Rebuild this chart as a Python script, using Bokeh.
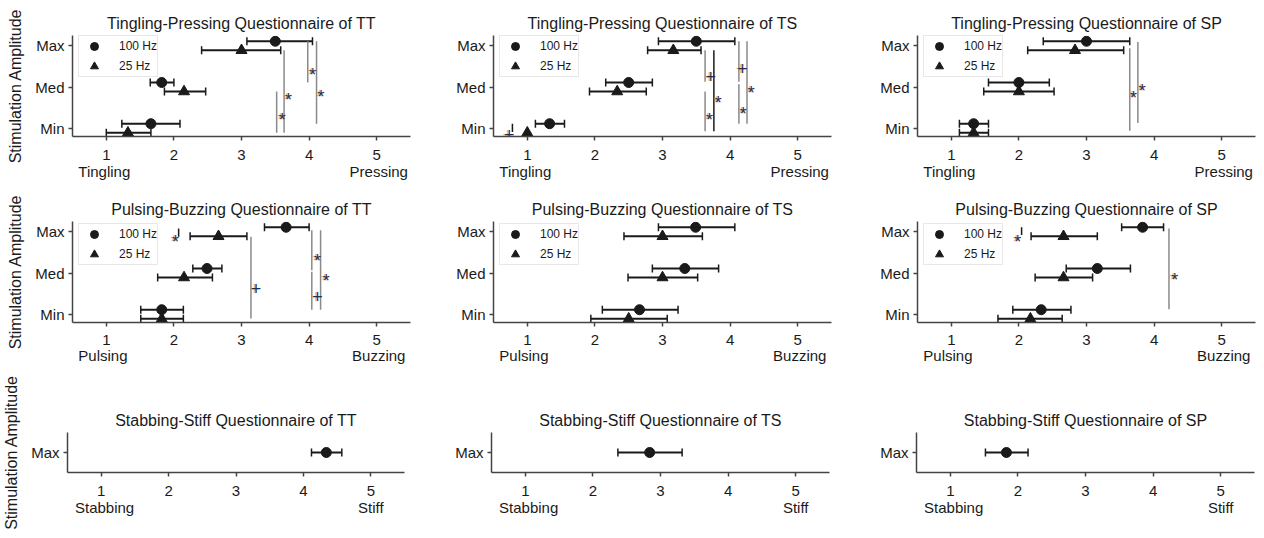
from bokeh.plotting import figure
from bokeh.models import (Range1d, FixedTicker, LinearAxis, Whisker, TeeHead,
                          ColumnDataSource, Legend, LegendItem)
from bokeh.layouts import column, row
from bokeh.embed import file_html
from bokeh.resources import INLINE
from bokeh.core.properties import value

# ---------------- data ----------------
levels = ["Min", "Med", "Max"]
level_pos = [0, 1, 2]
x_ticks = [1, 2, 3, 4, 5]
subjects = ["TT", "TS", "SP"]

# Tingling-Pressing (Min, Med, Max)
TT_TP_100 = [1.66, 1.82, 3.50]
TT_TP_100_lo = [1.23, 1.65, 3.08]
TT_TP_100_hi = [2.09, 2.00, 4.05]
TT_TP_25 = [1.32, 2.15, 3.00]
TT_TP_25_lo = [1.00, 1.86, 2.41]
TT_TP_25_hi = [1.66, 2.47, 3.58]

TS_TP_100 = [1.33, 2.50, 3.50]
TS_TP_100_lo = [1.12, 2.16, 2.94]
TS_TP_100_hi = [1.55, 2.85, 4.07]
TS_TP_25 = [1.00, 2.33, 3.16]
TS_TP_25_lo = [1.00, 1.92, 2.78]
TS_TP_25_hi = [1.00, 2.76, 3.57]

SP_TP_100 = [1.33, 2.00, 3.00]
SP_TP_100_lo = [1.12, 1.55, 2.36]
SP_TP_100_hi = [1.55, 2.45, 3.64]
SP_TP_25 = [1.33, 2.00, 2.83]
SP_TP_25_lo = [1.12, 1.48, 2.13]
SP_TP_25_hi = [1.55, 2.52, 3.55]

# Pulsing-Buzzing (Min, Med, Max)
TT_PB_100 = [1.82, 2.49, 3.66]
TT_PB_100_lo = [1.51, 2.28, 3.34]
TT_PB_100_hi = [2.14, 2.71, 4.00]
TT_PB_25 = [1.82, 2.15, 2.66]
TT_PB_25_lo = [1.51, 1.76, 2.24]
TT_PB_25_hi = [2.14, 2.57, 3.08]

TS_PB_100 = [2.66, 3.33, 3.49]
TS_PB_100_lo = [2.11, 2.85, 2.94]
TS_PB_100_hi = [3.23, 3.83, 4.07]
TS_PB_25 = [2.50, 3.00, 3.00]
TS_PB_25_lo = [1.94, 2.49, 2.43]
TS_PB_25_hi = [3.07, 3.52, 3.59]

SP_PB_100 = [2.33, 3.16, 3.83]
SP_PB_100_lo = [1.91, 2.70, 3.52]
SP_PB_100_hi = [2.77, 3.65, 4.14]
SP_PB_25 = [2.17, 2.66, 2.66]
SP_PB_25_lo = [1.69, 2.24, 2.18]
SP_PB_25_hi = [2.64, 3.09, 3.16]

# Stabbing-Stiff (Max only, 100 Hz)
SS_mean = [4.34, 2.84, 1.83]
SS_lo = [4.12, 2.37, 1.52]
SS_hi = [4.57, 3.32, 2.15]

# significance brackets: x, y-from, y-to, mark, mark x, mark y
TT_TP_sig_x = [3.63, 3.52, 3.98, 4.11]
TT_TP_sig_y0 = [1.89, 0.89, 2.11, 2.11]
TT_TP_sig_y1 = [-0.11, -0.11, 1.11, 0.11]
TT_TP_sig_mark = ["*", "*", "*", "*"]
TT_TP_sig_mx = [3.69, 3.60, 4.05, 4.17]
TT_TP_sig_my = [0.94, 0.44, 1.54, 0.99]

TS_TP_sig_x = [0.78, 3.63, 3.63, 3.76, 4.13, 4.13, 4.25]
TS_TP_sig_y0 = [0.11, 1.89, 0.89, 1.89, 2.11, 1.07, 2.11]
TS_TP_sig_y1 = [-0.09, 1.13, -0.07, -0.07, 1.13, 0.11, 0.11]
TS_TP_sig_mark = ["+", "+", "*", "*", "+", "*", "*"]
TS_TP_sig_mx = [0.73, 3.71, 3.69, 3.82, 4.18, 4.19, 4.31]
TS_TP_sig_my = [0.00, 1.40, 0.44, 0.85, 1.60, 0.59, 1.09]

SP_TP_sig_x = [3.64, 3.76]
SP_TP_sig_y0 = [1.94, 2.09]
SP_TP_sig_y1 = [-0.06, 0.13]
SP_TP_sig_mark = ["*", "*"]
SP_TP_sig_mx = [3.69, 3.82]
SP_TP_sig_my = [0.97, 1.15]

TT_PB_sig_x = [2.07, 3.14, 4.04, 4.04, 4.17]
TT_PB_sig_y0 = [2.08, 1.88, 2.04, 1.03, 2.04]
TT_PB_sig_y1 = [1.88, -0.10, 1.07, 0.11, 0.11]
TT_PB_sig_mark = ["*", "+", "*", "+", "*"]
TT_PB_sig_mx = [2.02, 3.21, 4.12, 4.12, 4.25]
TT_PB_sig_my = [2.00, 0.77, 1.53, 0.57, 1.05]

TS_PB_sig_x, TS_PB_sig_y0, TS_PB_sig_y1 = [], [], []
TS_PB_sig_mark, TS_PB_sig_mx, TS_PB_sig_my = [], [], []

SP_PB_sig_x = [2.04, 4.22]
SP_PB_sig_y0 = [2.11, 2.08]
SP_PB_sig_y1 = [1.92, 0.12]
SP_PB_sig_mark = ["*", "*"]
SP_PB_sig_mx = [1.98, 4.30]
SP_PB_sig_my = [2.00, 1.07]

TP_words = ["Tingling", "Pressing"]
TP_word_pos = [0.97, 5.03]
PB_words = ["Pulsing", "Buzzing"]
PB_word_pos = [0.95, 5.03]
SS_words = ["Stabbing", "Stiff"]
SS_word_pos = [1.05, 5.0]

# ---------------- styling / layout ----------------
FONT = "Liberation Sans"
TXT = "#1a1a1a"
AX = "#444444"
DARK = "#1a1a1a"
SIG_GRAY = "#8a8a8a"
DODGE = 0.11

col_widths = [422, 423, 415]
col_borders_top = [(72, 12), (71, 14), (72, 5)]
col_borders_bot = [(66, 18), (69, 16), (71, 6)]
# (height, top border, bottom border, tick standoff, word standoff)
row_geom = [(186, 35, 50, 9, -6), (181, 35, 45, 8, -7), (169, 65, 64, 9, -6)]


def base_fig(title, width, height, bl, br, bt, bb, yr, yticks, ylabels, words, word_pos,
             ylabel, tick_standoff, word_standoff):
    p = figure(width=width, height=height, x_range=Range1d(0.5, 5.5), y_range=Range1d(*yr),
               output_backend="svg", toolbar_location=None,
               min_border_left=bl, min_border_right=br, min_border_top=bt, min_border_bottom=bb)
    p.outline_line_color = None
    p.xgrid.visible = False
    p.ygrid.visible = False
    p.background_fill_color = "white"
    p.border_fill_color = "white"
    p.title.text = title
    p.title.align = "center"
    p.title.text_font = FONT
    p.title.text_font_size = "16px"
    p.title.text_font_style = "normal"
    p.title.text_color = TXT
    p.title.standoff = 7

    xa = p.xaxis[0]
    xa.ticker = FixedTicker(ticks=x_ticks)
    xa.minor_tick_line_color = None
    xa.major_tick_in = 0
    xa.major_tick_out = 4
    xa.major_tick_line_color = AX
    xa.major_tick_line_width = 1.5
    xa.axis_line_color = AX
    xa.axis_line_width = 1.5
    xa.major_label_text_font = FONT
    xa.major_label_text_font_size = "15px"
    xa.major_label_text_color = TXT
    xa.major_label_standoff = tick_standoff

    ya = p.yaxis[0]
    ya.ticker = FixedTicker(ticks=yticks)
    ya.major_label_overrides = {t: l for t, l in zip(yticks, ylabels)}
    ya.minor_tick_line_color = None
    ya.major_tick_in = 0
    ya.major_tick_out = 4
    ya.major_tick_line_color = AX
    ya.major_tick_line_width = 1.5
    ya.axis_line_color = AX
    ya.axis_line_width = 1.5
    ya.major_label_text_font = FONT
    ya.major_label_text_font_size = "15px"
    ya.major_label_text_color = TXT
    ya.major_label_standoff = 4
    if ylabel:
        ya.axis_label = ylabel
        ya.axis_label_text_font = FONT
        ya.axis_label_text_font_size = "16px"
        ya.axis_label_text_font_style = "normal"
        ya.axis_label_text_color = TXT
        ya.axis_label_standoff = 8

    wa = LinearAxis(ticker=FixedTicker(ticks=word_pos),
                    major_label_overrides={word_pos[0]: words[0], word_pos[1]: words[1]},
                    axis_line_color=None, major_tick_line_color=None, minor_tick_line_color=None,
                    major_label_text_font=FONT, major_label_text_font_size="15px",
                    major_label_text_color=TXT, major_label_standoff=word_standoff)
    p.add_layout(wa, "below")
    return p


def add_bars(p, ys, means, lo, hi):
    src = ColumnDataSource(dict(base=ys, lower=lo, upper=hi))
    w = Whisker(source=src, base="base", lower="lower", upper="upper", dimension="width",
                line_color=DARK, line_width=2,
                upper_head=TeeHead(size=8, line_color=DARK, line_width=1.5),
                lower_head=TeeHead(size=8, line_color=DARK, line_width=1.5))
    p.add_layout(w)


def add_sig(p, xs, y0, y1, marks, mx, my, dark_idx=()):
    if not xs:
        return
    cols = [DARK if i in dark_idx else SIG_GRAY for i in range(len(xs))]
    p.segment(x0=xs, y0=y0, x1=xs, y1=y1, line_color=cols, line_width=1.5)
    for m, yoff in (("*", 10), ("+", 6)):
        idx = [i for i, s in enumerate(marks) if s == m]
        if not idx:
            continue
        tx = [mx[i] for i in idx]
        ty = [my[i] for i in idx]
        tt = [m] * len(idx)
        p.text(x=tx, y=ty, text=tt, text_font=value(FONT), text_font_size="18px",
               text_align="center", text_baseline="alphabetic", x_offset=-1.2, y_offset=yoff,
               text_color="#e8963a", text_alpha=0.75)
        p.text(x=tx, y=ty, text=tt, text_font=value(FONT), text_font_size="18px",
               text_align="center", text_baseline="alphabetic", x_offset=0.3, y_offset=yoff,
               text_color="#1c2f57")


def two_freq_panel(title, ci, ri, m100, l100, h100, m25, l25, h25,
                   sx, sy0, sy1, smark, smx, smy, words, word_pos, legend_y, dark_idx=()):
    bl, br = col_borders_top[ci]
    h, bt, bb, ts, ws = row_geom[ri]
    p = base_fig(title, col_widths[ci], h, bl, br, bt, bb, (-0.2, 2.25), level_pos, levels,
                 words, word_pos, "Stimulation Amplitude" if ci == 0 else None, ts, ws)
    y100 = [l + DODGE for l in level_pos]
    y25 = [l - DODGE for l in level_pos]
    add_sig(p, sx, sy0, sy1, smark, smx, smy, dark_idx)
    add_bars(p, y100, m100, l100, h100)
    add_bars(p, y25, m25, l25, h25)
    rc = p.scatter(x=m100, y=y100, marker="circle", size=10, fill_color=DARK, line_color=DARK)
    rt = p.scatter(x=m25, y=y25, marker="triangle", size=11, fill_color=DARK, line_color=DARK)
    leg = Legend(items=[LegendItem(label="100 Hz", renderers=[rc]),
                        LegendItem(label="25 Hz", renderers=[rt])],
                 location=(6, legend_y), orientation="vertical",
                 glyph_width=30, glyph_height=20, label_height=14, spacing=-6,
                 padding=0, margin=0, label_standoff=10,
                 label_text_font=FONT, label_text_font_size="12px", label_text_color=TXT,
                 border_line_color="#d0d0d0", border_line_width=1,
                 background_fill_color="white", background_fill_alpha=0.85)
    p.add_layout(leg)
    return p


tp = [
    two_freq_panel("Tingling-Pressing Questionnaire of TT", 0, 0, TT_TP_100, TT_TP_100_lo, TT_TP_100_hi,
                   TT_TP_25, TT_TP_25_lo, TT_TP_25_hi, TT_TP_sig_x, TT_TP_sig_y0, TT_TP_sig_y1,
                   TT_TP_sig_mark, TT_TP_sig_mx, TT_TP_sig_my, TP_words, TP_word_pos, 59),
    two_freq_panel("Tingling-Pressing Questionnaire of TS", 1, 0, TS_TP_100, TS_TP_100_lo, TS_TP_100_hi,
                   TS_TP_25, TS_TP_25_lo, TS_TP_25_hi, TS_TP_sig_x, TS_TP_sig_y0, TS_TP_sig_y1,
                   TS_TP_sig_mark, TS_TP_sig_mx, TS_TP_sig_my, TP_words, TP_word_pos, 59, dark_idx=(0, 3)),
    two_freq_panel("Tingling-Pressing Questionnaire of SP", 2, 0, SP_TP_100, SP_TP_100_lo, SP_TP_100_hi,
                   SP_TP_25, SP_TP_25_lo, SP_TP_25_hi, SP_TP_sig_x, SP_TP_sig_y0, SP_TP_sig_y1,
                   SP_TP_sig_mark, SP_TP_sig_mx, SP_TP_sig_my, TP_words, TP_word_pos, 59),
]
pb = [
    two_freq_panel("Pulsing-Buzzing Questionnaire of TT", 0, 1, TT_PB_100, TT_PB_100_lo, TT_PB_100_hi,
                   TT_PB_25, TT_PB_25_lo, TT_PB_25_hi, TT_PB_sig_x, TT_PB_sig_y0, TT_PB_sig_y1,
                   TT_PB_sig_mark, TT_PB_sig_mx, TT_PB_sig_my, PB_words, PB_word_pos, 57, dark_idx=(0,)),
    two_freq_panel("Pulsing-Buzzing Questionnaire of TS", 1, 1, TS_PB_100, TS_PB_100_lo, TS_PB_100_hi,
                   TS_PB_25, TS_PB_25_lo, TS_PB_25_hi, TS_PB_sig_x, TS_PB_sig_y0, TS_PB_sig_y1,
                   TS_PB_sig_mark, TS_PB_sig_mx, TS_PB_sig_my, PB_words, PB_word_pos, 57),
    two_freq_panel("Pulsing-Buzzing Questionnaire of SP", 2, 1, SP_PB_100, SP_PB_100_lo, SP_PB_100_hi,
                   SP_PB_25, SP_PB_25_lo, SP_PB_25_hi, SP_PB_sig_x, SP_PB_sig_y0, SP_PB_sig_y1,
                   SP_PB_sig_mark, SP_PB_sig_mx, SP_PB_sig_my, PB_words, PB_word_pos, 57, dark_idx=(0,)),
]

ss = []
h3, bt3, bb3, ts3, ws3 = row_geom[2]
for ci, subj in enumerate(subjects):
    bl, br = col_borders_bot[ci]
    p = base_fig("Stabbing-Stiff Questionnaire of " + subj, col_widths[ci], h3, bl, br, bt3, bb3,
                 (-0.5, 0.5), [0], ["Max"], SS_words, SS_word_pos,
                 "Stimulation Amplitude" if ci == 0 else None, ts3, ws3)
    add_bars(p, [0], [SS_mean[ci]], [SS_lo[ci]], [SS_hi[ci]])
    p.scatter(x=[SS_mean[ci]], y=[0], marker="circle", size=10, fill_color=DARK, line_color=DARK)
    ss.append(p)

layout = column(row(*tp), row(*pb), row(*ss))
open("out.html", "w").write(file_html(layout, INLINE))
